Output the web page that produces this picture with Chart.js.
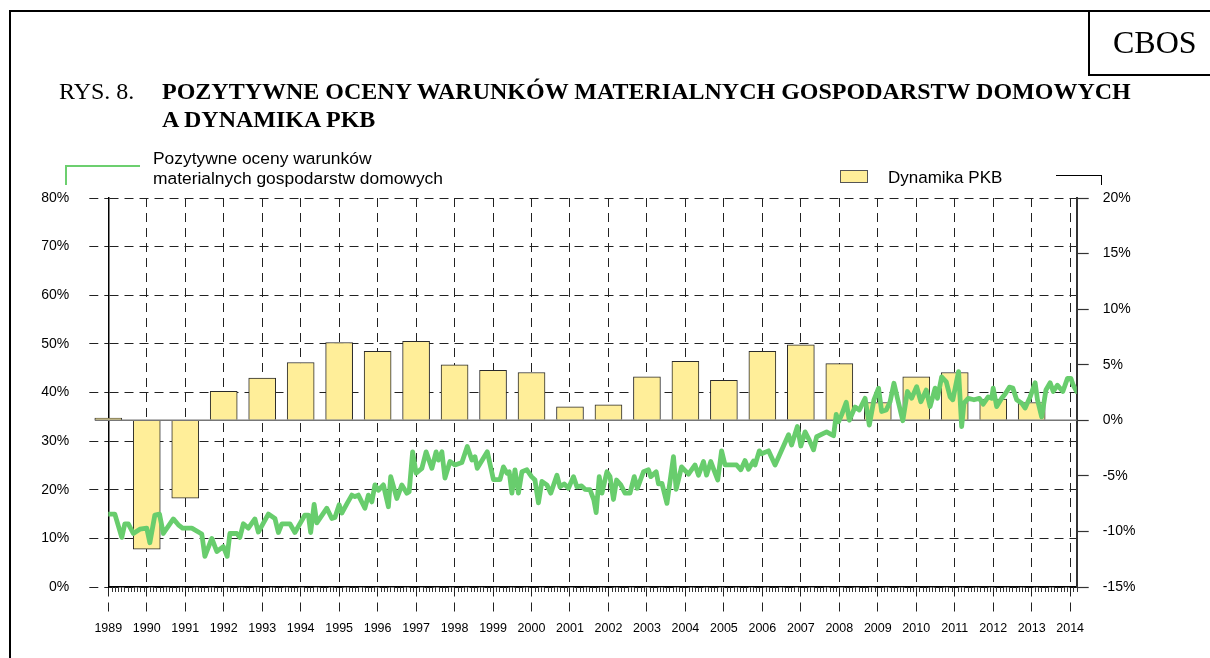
<!DOCTYPE html>
<html><head><meta charset="utf-8">
<script src="https://cdn.jsdelivr.net/npm/chart.js@4.4.1/dist/chart.umd.min.js"></script>
<style>
html,body{margin:0;padding:0;background:#fff;}
#wrap{position:relative;width:1210px;height:658px;overflow:hidden;background:#fff;}
canvas{position:absolute;left:0;top:0;}
.t{position:absolute;white-space:nowrap;line-height:1;color:#000;}
.serif{font-family:"Liberation Serif","Times New Roman",serif;}
.sans{font-family:"Liberation Sans",Arial,sans-serif;}
.blk{position:absolute;background:#000;}
</style></head>
<body><div id="wrap">
<canvas id="c" width="1210" height="658"></canvas>
<div class="blk" style="left:9px;top:10px;width:1201px;height:2px;"></div>
<div class="blk" style="left:9px;top:10px;width:2px;height:648px;"></div>
<div style="position:absolute;left:1088px;top:10px;width:200px;height:66px;box-sizing:border-box;border:2px solid #000;"></div>
<div class="t serif" style="left:1113px;top:26px;font-size:32px;">CBOS</div>
<div class="t serif" style="left:59px;top:79px;font-size:24px;">RYS. 8.</div>
<div class="t serif" style="left:162px;top:79px;font-size:24px;font-weight:bold;">POZYTYWNE OCENY WARUNKÓW MATERIALNYCH GOSPODARSTW DOMOWYCH</div>
<div class="t serif" style="left:162px;top:107px;font-size:24px;font-weight:bold;">A DYNAMIKA PKB</div>
<div style="position:absolute;left:65px;top:165px;width:75px;height:2px;background:#6ccf6f;"></div>
<div style="position:absolute;left:65px;top:165px;width:2px;height:20px;background:#6ccf6f;"></div>
<div class="t sans" style="left:153px;top:150px;font-size:17.4px;">Pozytywne oceny warunków</div>
<div class="t sans" style="left:153px;top:170px;font-size:17.4px;">materialnych gospodarstw domowych</div>
<div style="position:absolute;left:840px;top:170px;width:28px;height:13px;box-sizing:border-box;border:1px solid #555;background:#FFEE99;"></div>
<div class="t sans" style="left:888px;top:169px;font-size:17px;">Dynamika PKB</div>
<div style="position:absolute;left:1056px;top:175px;width:46px;height:1px;background:#000;"></div>
<div style="position:absolute;left:1101px;top:175px;width:1px;height:10px;background:#000;"></div>
</div>
<script>
// GDP growth (right axis)
const gdpYears  = [1989,1990,1991,1992,1993,1994,1995,1996,1997,1998,1999,2000,2001,2002,2003,2004,2005,2006,2007,2008,2009,2010,2011,2012,2013];
const gdpGrowth = [0.2,-11.6,-7.0,2.6,3.8,5.2,7.0,6.2,7.1,5.0,4.5,4.3,1.2,1.4,3.9,5.3,3.6,6.2,6.8,5.1,1.6,3.9,4.3,1.9,1.6];

// Positive assessments of household material conditions (left axis)
const surveyTimes = [
1989.00,1989.17,1989.35,1989.43,1989.52,1989.65,1989.82,1990.00,1990.08,1990.21,1990.33,1990.43,1990.69,1990.82,1990.93,
1991.17,1991.43,1991.51,1991.69,1991.82,1991.99,1992.09,1992.16,1992.34,1992.42,1992.51,1992.64,1992.81,1992.90,
1993.16,1993.33,1993.42,1993.51,1993.72,1993.85,1994.11,1994.20,1994.26,1994.35,1994.42,1994.68,1994.81,1994.89,
1995.00,1995.07,1995.20,1995.33,1995.41,1995.50,1995.67,1995.76,1995.85,1995.93,1996.02,1996.15,1996.28,1996.34,
1996.50,1996.63,1996.76,1996.82,1996.91,1997.00,1997.15,1997.26,1997.41,1997.52,1997.58,1997.67,1997.75,1997.88,
1998.01,1998.19,1998.33,1998.45,1998.53,1998.59,1998.85,1999.01,1999.18,1999.27,1999.36,1999.42,1999.49,1999.57,
1999.66,1999.75,1999.88,2000.00,2000.09,2000.18,2000.27,2000.40,2000.50,2000.66,2000.74,2000.85,2000.96,
2001.09,2001.18,2001.30,2001.39,2001.52,2001.62,2001.68,2001.76,2001.83,2001.96,2002.04,2002.13,2002.21,2002.32,
2002.43,2002.56,2002.67,2002.75,2002.91,2003.04,2003.10,2003.24,2003.30,2003.39,2003.52,2003.69,2003.76,2003.90,
2004.08,2004.25,2004.34,2004.47,2004.55,2004.66,2004.74,2004.84,2004.94,2005.03,2005.33,2005.44,2005.55,2005.64,
2005.77,2005.81,2005.92,2005.98,2006.16,2006.33,2006.68,2006.76,2006.91,2007.00,2007.11,2007.22,2007.33,2007.41,
2007.59,2007.67,2007.76,2007.85,2007.92,2007.98,2008.06,2008.18,2008.26,2008.41,2008.52,2008.67,2008.78,2008.90,
2009.02,2009.10,2009.22,2009.32,2009.42,2009.52,2009.65,2009.77,2009.88,2010.01,2010.12,2010.26,2010.36,2010.49,
2010.55,2010.66,2010.78,2010.88,2010.95,2011.10,2011.18,2011.24,2011.35,2011.50,2011.64,2011.74,2011.87,2011.96,
2012.00,2012.09,2012.22,2012.31,2012.42,2012.51,2012.61,2012.74,2012.83,2012.96,2013.09,2013.15,2013.26,2013.37,
2013.48,2013.56,2013.67,2013.81,2013.93,2014.02,2014.08,2014.17];
const positiveShares = [
15.0,15.0,10.2,13.0,13.0,11.0,11.9,12.1,9.1,14.8,15.0,11.0,14.0,12.8,12.1,
12.1,10.9,6.3,10.0,7.3,8.3,6.3,11.0,11.0,10.2,13.0,12.1,14.0,11.3,
15.0,14.1,11.2,13.0,13.0,11.2,14.8,14.8,11.2,17.0,13.2,16.2,14.1,14.3,
16.9,15.2,17.1,18.9,18.6,18.9,16.2,18.9,17.5,21.0,19.9,21.0,16.5,22.7,
18.2,21.0,19.3,19.6,27.8,23.4,24.4,27.8,24.4,27.8,26.1,27.8,22.4,25.8,
25.1,25.6,28.9,26.1,26.8,24.4,27.8,22.1,22.1,24.7,23.4,23.7,19.3,24.1,
19.3,23.7,24.1,22.7,22.0,17.3,21.7,21.0,19.3,23.0,20.6,21.2,20.3,
22.7,20.6,20.8,20.1,20.0,17.9,15.3,22.7,19.3,23.7,22.7,18.0,22.0,21.0,
19.3,19.3,22.7,20.3,23.7,24.1,22.7,23.7,21.2,21.3,17.2,26.8,20.1,24.7,
23.2,25.1,23.0,25.8,23.0,25.8,24.1,22.0,28.0,25.1,25.1,24.1,26.0,24.2,
25.9,25.1,28.0,27.4,28.0,25.1,31.3,29.2,33.0,29.0,31.9,30.2,28.2,30.9,
31.6,31.9,31.5,31.1,35.5,34.0,35.4,38.0,34.3,37.0,36.4,38.8,33.3,38.5,
40.9,36.1,36.4,38.1,41.9,38.5,34.2,40.2,38.8,41.2,38.1,40.5,37.1,40.9,
38.8,43.2,42.2,39.1,38.5,44.3,33.0,37.8,38.8,38.5,38.8,37.6,39.1,38.8,
40.9,37.1,38.8,39.7,41.1,40.9,38.5,37.8,36.8,39.1,42.0,38.5,35.0,40.5,
42.0,40.2,41.5,40.2,42.9,42.9,41.5,40.2];

const yearTicks = [1989,1990,1991,1992,1993,1994,1995,1996,1997,1998,1999,2000,2001,2002,2003,2004,2005,2006,2007,2008,2009,2010,2011,2012,2013,2014];
const leftTicks = [0,10,20,30,40,50,60,70,80];
const rightTicks = [-15,-10,-5,0,5,10,15,20];

Chart.defaults.font.family = '"Liberation Sans", Arial, sans-serif';
Chart.defaults.color = '#000';

const extras = {
  id: 'extras',
  afterDatasetDraw(chart, args) {
    if (args.index !== 1) return;
    const {ctx, chartArea, scales} = chart;
    const y0 = scales.y2.getPixelForValue(0);
    ctx.save();
    ctx.strokeStyle = '#777';
    ctx.lineWidth = 1.5;
    ctx.beginPath();
    ctx.moveTo(scales.x.getPixelForValue(1989) - 13.5, y0);
    ctx.lineTo(chartArea.right, y0);
    ctx.stroke();
    ctx.restore();
  },
  afterDraw(chart) {
    const {ctx, chartArea, scales} = chart;
    const yb = chartArea.bottom;
    ctx.save();
    ctx.strokeStyle = '#333';
    ctx.lineWidth = 1;
    ctx.beginPath();
    for (let m = 1; m < 26 * 12; m++) {
      if (m % 12 === 0) continue;
      const v = 1989 + m / 12;
      if (v > 2014.17) break;
      const px = Math.round(scales.x.getPixelForValue(v)) + 0.5;
      ctx.moveTo(px, yb);
      ctx.lineTo(px, yb + 5);
    }
    ctx.stroke();
    ctx.restore();
  }
};

new Chart(document.getElementById('c'), {
  type: 'bar',
  data: {
    datasets: [
      {
        type: 'line',
        label: 'Pozytywne oceny warunków materialnych gospodarstw domowych',
        data: surveyTimes.map((t, i) => ({x: t, y: positiveShares[i]})),
        xAxisID: 'x', yAxisID: 'y',
        borderColor: '#68cd6d', borderWidth: 4.8,
        pointRadius: 0, tension: 0, order: 0,
        borderJoinStyle: 'round', borderCapStyle: 'round'
      },
      {
        type: 'bar',
        label: 'Dynamika PKB',
        data: gdpYears.map((t, i) => ({x: t, y: gdpGrowth[i]})),
        xAxisID: 'x', yAxisID: 'y2',
        backgroundColor: '#FFEE99', borderColor: '#2a2a2a', borderWidth: 1,
        barThickness: 27, order: 1, clip: false
      }
    ]
  },
  options: {
    responsive: false, animation: false, devicePixelRatio: 1,
    layout: {padding: {top: 198, left: 0, right: 0, bottom: 0}},
    plugins: {legend: {display: false}, tooltip: {enabled: false}},
    scales: {
      x: {
        type: 'linear', position: 'bottom', min: 1989, max: 2014.17, offset: false,
        afterBuildTicks: s => { s.ticks = yearTicks.map(v => ({value: v})); },
        afterFit: s => { s.height = 71; },
        ticks: {callback: v => String(v), font: {size: 12.5}, padding: 8, maxRotation: 0, autoSkip: false, color: '#000'},
        grid: {offset: false, color: '#222', lineWidth: 1, tickLength: 26, tickColor: '#222', tickWidth: 1, tickBorderDash: [9, 6]},
        border: {display: true, color: '#000', width: 1.5, dash: [9, 6]}
      },
      y: {
        type: 'linear', position: 'left', min: 0, max: 80,
        afterBuildTicks: s => { s.ticks = leftTicks.map(v => ({value: v})); },
        afterFit: s => { s.width = 108.3; },
        ticks: {callback: v => v + '%', font: {size: 14}, padding: 20, color: '#000'},
        grid: {color: '#222', lineWidth: 1, tickLength: 19, tickColor: '#222', tickWidth: 1, tickBorderDash: [9, 6]},
        border: {display: true, color: '#000', width: 1.5, dash: [9, 6]}
      },
      y2: {
        type: 'linear', position: 'right', min: -15, max: 20,
        afterBuildTicks: s => { s.ticks = rightTicks.map(v => ({value: v})); },
        afterFit: s => { s.width = 1210 - 1076.7; },
        ticks: {callback: v => v + '%', font: {size: 14}, padding: 14, color: '#000'},
        grid: {drawOnChartArea: false, tickLength: 12, tickColor: '#333', tickWidth: 1.2},
        border: {display: true, color: '#333', width: 2}
      }
    }
  },
  plugins: [extras]
});
</script>
</body></html>
